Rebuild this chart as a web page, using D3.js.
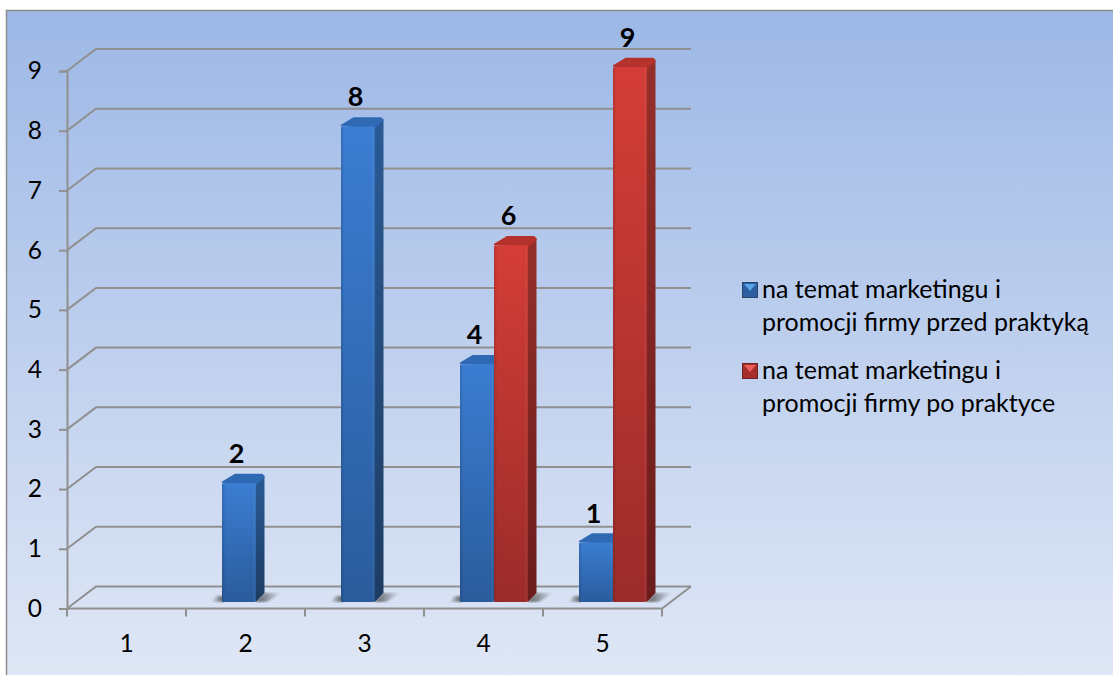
<!DOCTYPE html>
<html lang="en">
    <head>
        <meta charset="utf-8">
        <title>Marketing i promocja firmy</title>
        <script src="https://d3js.org/d3.v7.min.js"></script>
        <style type="text/css">
          body{
            margin: 0;
            background: #fff;
          }
          svg{
            display: block;
          }
          text{
            font-family: Lato, sans-serif;
            fill: #000;
          }
          .tick-label{
            font-size: 24.5px;
          }
          .value-label{
            font-size: 27px;
            font-weight: bold;
          }
          .legend-label{
            font-size: 25px;
          }
        </style>
    </head>
    <body>
        <svg width="1113" height="675"></svg>

        <script type="text/javascript">

//Chart data
const categories = ["1", "2", "3", "4", "5"];
const seriesNames = ["before", "after"];
const before = [0, 2, 8, 4, 1];
const after = [0, 0, 0, 6, 9];
const yTicks = [0, 1, 2, 3, 4, 5, 6, 7, 8, 9];
const legendLines = [
  ["na temat marketingu i", "promocji firmy przed praktyką"],
  ["na temat marketingu i", "promocji firmy po praktyce"]
];

const svg = d3.select("svg");
const defs = svg.append("defs");

//Helper for linear gradients, vertical unless told otherwise
function gradient(id, stops, horizontal){
  const g = defs.append("linearGradient")
                .attr("id", id)
                .attr("x1", 0).attr("y1", 0)
                .attr("x2", horizontal ? 1 : 0).attr("y2", horizontal ? 0 : 1);
  stops.forEach(s => {
    g.append("stop")
     .attr("offset", s[0])
     .attr("stop-color", s[1])
     .attr("stop-opacity", s.length > 2 ? s[2] : 1);
  });
}

gradient("bg", [[0, "#9db8e6"], [1, "#e1e8f6"]]);
gradient("front-before", [[0, "#3b7dd2"], [1, "#2a5c9c"]]);
gradient("front-after", [[0, "#d43d37"], [1, "#9b2c2a"]]);
gradient("side-before", [[0, "#2a5a94"], [1, "#1d3c62"]]);
gradient("side-after", [[0, "#94302b"], [1, "#6a1c1b"]]);
gradient("edge", [[0, "#000", 0.14], [0.1, "#000", 0], [0.9, "#fff", 0], [0.94, "#fff", 0.04], [1, "#000", 0.08]], true);
gradient("shadow-left", [[0, "#444", 0], [1, "#444", 0.85]], true);
gradient("shadow-right", [[0, "#444", 0.85], [1, "#444", 0]], true);

//Soft edge for the floor shadows
defs.append("filter")
    .attr("id", "soft")
    .append("feGaussianBlur")
    .attr("stdDeviation", 1);

const colors = {
  before: {top: "#2f69b4", marker: "#2c5f9f", markerLight: "#5aa2ea", markerEdge: "#24466f"},
  after: {top: "#b5322d", marker: "#a52f2b", markerLight: "#ef5f5a", markerEdge: "#70201e"}
};

//Plot background and frame
svg.append("rect")
   .attr("x", 6.5).attr("y", 10.5)
   .attr("width", 1120).attr("height", 680)
   .attr("fill", "url(#bg)")
   .attr("stroke", "#8c8c8c")
   .attr("stroke-width", 1.5);

//Scales: the front plane of the box and the bars standing inside it
const x = d3.scaleBand().domain(categories).range([67, 662]);
const y = d3.scaleLinear().domain([0, 9]).range([608.5, 71]);
const barY = d3.scaleLinear().domain([0, 9]).range([602, 67]);
const inner = d3.scaleBand().domain(seriesNames).range([0, 68]);

const depthX = 29, depthY = 22;
const barDepthX = 8.5, barDepthY = 9;
const barShift = 10.5;
const gridColor = "#909090";

//Walls of the box
const grid = svg.append("g")
                .attr("fill", "none")
                .attr("stroke", gridColor)
                .attr("stroke-width", 2);

grid.selectAll("path.gridline")
    .data(yTicks)
    .enter()
    .append("path")
    .attr("class", "gridline")
    .attr("d", d => "M" + x.range()[0] + "," + y(d) + "l" + depthX + "," + (-depthY) + "H" + (x.range()[1] + depthX));

//Floor, front edge and right edge
grid.append("path")
    .attr("d", "M" + x.range()[0] + "," + y(0) + "H" + x.range()[1] + "l" + depthX + "," + (-depthY));

//Floor shadows behind the bars
const barData = [];
categories.forEach((c, i) => {
  if(before[i] > 0) barData.push({cat: c, series: "before", value: before[i]});
  if(after[i] > 0) barData.push({cat: c, series: "after", value: after[i]});
});
const barW = inner.bandwidth();
const barLeft = d => x(d.cat) + x.bandwidth() / 2 - barW + barShift + inner(d.series);

const shadows = svg.append("g").attr("filter", "url(#soft)");
shadows.selectAll("path.left")
       .data(barData.filter(d => d.series === "before"))
       .enter()
       .append("path")
       .attr("class", "left")
       .attr("fill", "url(#shadow-left)")
       .attr("d", d => {
         const l = barLeft(d);
         return "M" + (l + 2) + "," + barY(0) + "h-13l6,-6h7z";
       });
shadows.selectAll("path.right")
       .data(barData.filter(d => d.series === "after" || after[categories.indexOf(d.cat)] === 0))
       .enter()
       .append("path")
       .attr("class", "right")
       .attr("fill", "url(#shadow-right)")
       .attr("d", d => {
         const r = barLeft(d) + barW;
         return "M" + r + "," + barY(0) + "l8,-9h17l-14,9z";
       });

//Bars, drawn back to front so the red bar overlaps the blue one's side
const bars = svg.selectAll("g.bar")
                .data(barData)
                .enter()
                .append("g")
                .attr("class", "bar");

bars.append("path")
    .attr("fill", d => "url(#side-" + d.series + ")")
    .attr("d", d => {
      const r = barLeft(d) + barW;
      return "M" + r + "," + barY(d.value) + "l" + barDepthX + "," + (-barDepthY + 2)
           + "V" + (barY(0) - barDepthY) + "L" + r + "," + barY(0) + "z";
    });

bars.append("path")
    .attr("fill", d => colors[d.series].top)
    .attr("stroke", d => colors[d.series].top)
    .attr("stroke-width", 1.5)
    .attr("stroke-linejoin", "round")
    .attr("d", d => {
      const l = barLeft(d);
      return "M" + (l + 0.5) + "," + (barY(d.value) - 1) + "l" + (barDepthX + 4) + "," + (-barDepthY + 1.5)
           + "H" + (l + barW + barDepthX - 2.5) + "l2,2L" + (l + barW) + "," + (barY(d.value) + 1) + "z";
    });

bars.append("rect")
    .attr("x", d => barLeft(d))
    .attr("y", d => barY(d.value))
    .attr("width", barW)
    .attr("height", d => barY(0) - barY(d.value))
    .attr("rx", 1.5)
    .attr("fill", d => "url(#front-" + d.series + ")");

bars.append("rect")
    .attr("x", d => barLeft(d))
    .attr("y", d => barY(d.value))
    .attr("width", barW)
    .attr("height", d => barY(0) - barY(d.value))
    .attr("rx", 1.5)
    .attr("fill", "url(#edge)");

//Value labels
svg.selectAll("text.value-label")
   .data(barData)
   .enter()
   .append("text")
   .attr("class", "value-label")
   .attr("text-anchor", "middle")
   .attr("x", d => barLeft(d) + barW / 2 - 2.5)
   .attr("y", d => barY(d.value) - 20)
   .text(d => d.value);

//Axes, restyled to the grey of the walls
const yAxis = d3.axisLeft(y).tickValues(yTicks).tickSize(8).tickPadding(17);
const xAxis = d3.axisBottom(x).tickSize(0).tickPadding(26);

const yG = svg.append("g").attr("transform", "translate(" + x.range()[0] + ",0)").call(yAxis);
const xG = svg.append("g").attr("transform", "translate(0," + y(0) + ")").call(xAxis);
xG.select(".domain").remove();

yG.select(".domain").attr("stroke", gridColor).attr("stroke-width", 2);
yG.selectAll(".tick line").attr("stroke", gridColor).attr("stroke-width", 2);
yG.selectAll("text").attr("class", "tick-label");
xG.selectAll("text").attr("class", "tick-label");

//Tick marks sit on the category boundaries
svg.append("g")
   .selectAll("line")
   .data(categories.map(c => x(c)).concat([x.range()[1]]))
   .enter()
   .append("line")
   .attr("x1", d => d).attr("x2", d => d)
   .attr("y1", y(0)).attr("y2", y(0) + 8)
   .attr("stroke", gridColor)
   .attr("stroke-width", 2);

//Legend
const legend = svg.selectAll("g.legend")
                  .data(seriesNames)
                  .enter()
                  .append("g")
                  .attr("class", "legend")
                  .attr("transform", (d, i) => "translate(742," + (282 + i * 81) + ")");

legend.append("rect")
      .attr("x", 0.5).attr("y", 0.5)
      .attr("width", 15).attr("height", 15)
      .attr("fill", d => colors[d].marker)
      .attr("stroke", d => colors[d].markerEdge);

legend.append("path")
      .attr("d", "M2,2H14L8,9z")
      .attr("fill", d => colors[d].markerLight);

legend.append("text")
      .attr("class", "legend-label")
      .selectAll("tspan")
      .data((d, i) => legendLines[i])
      .enter()
      .append("tspan")
      .attr("x", 20)
      .attr("y", (d, i) => 16 + i * 33)
      .text(d => d);

        </script>
    </body>
</html>
